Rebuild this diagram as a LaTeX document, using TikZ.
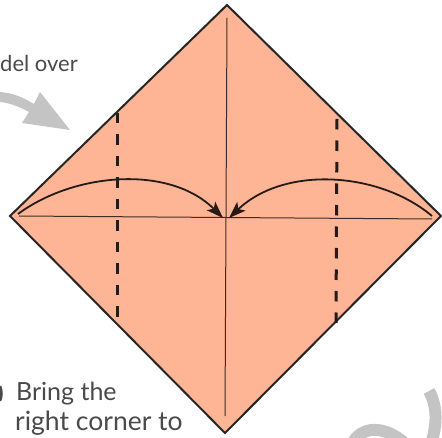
\documentclass[tikz,border=0pt]{standalone}
\usepackage{fontspec}
\setmainfont{Lato}
\usetikzlibrary{arrows.meta}
\definecolor{paper}{HTML}{FDB595}
\definecolor{swoosh}{HTML}{C4C4C4}
\definecolor{inktext}{HTML}{4A4A4A}
\tikzset{
  crease/.style = {line width=1pt, black!75!paper},
  fold/.style   = {line width=3pt, black!85!paper, dash pattern=on 10.5pt off 11pt},
  curl/.style   = {-{Stealth[length=17pt,width=12pt,inset=4pt]}, line width=1.8pt, black!85!paper},
  swirl/.style  = {line width=12pt, swoosh},
  caption/.style= {font=\fontsize{25}{25}\selectfont, text=inktext, anchor=base west, inner sep=0pt},
  topcap/.style = {caption, font=\fontsize{22}{22}\selectfont},
  widecap/.style= {caption, font=\fontsize{26.5}{26.5}\selectfont}
}
\begin{document}
\begin{tikzpicture}[x=1pt,y=-1pt]
  \useasboundingbox (0,0) rectangle (442,438);
  \clip (0,0) rectangle (442,438);
  % corners of the square
  \coordinate (top) at (227,5);
  \coordinate (lft) at (10,216);
  \coordinate (rgt) at (441,216);
  \coordinate (bot) at (225,433);
  \fill[paper] (top) -- (rgt) -- (bot) -- (lft) -- cycle;
  \draw[line width=2pt, black!85, line join=miter] (top) -- (rgt) -- (bot) -- (lft) -- cycle;
  % creases
  \coordinate (ctop) at (227,18);
  \coordinate (cbot) at (225,416);
  \coordinate (cleft) at (19,216);
  \coordinate (cright) at (432,219);
  \draw[crease] (ctop) -- (cbot);
  \draw[crease] (cleft) -- (cright);
  % fold lines
  \coordinate (la) at (117,113);
  \coordinate (lb) at (117,320);
  \coordinate (ra) at (337,119);
  \coordinate (rb) at (336,325);
  \draw[fold] (la) -- (lb);
  \draw[fold] (ra) -- (rb);
  % arrows to the middle
  \coordinate (lstart) at (18,214);
  \coordinate (rstart) at (432,216);
  \coordinate (mid1) at (223,218);
  \coordinate (mid2) at (229,218);
  \draw[curl] (lstart) .. controls (75,172) and (170,165) .. (mid1);
  \draw[curl] (rstart) .. controls (380,172) and (285,165) .. (mid2);
  % grey arrows of the next step
  \fill[swoosh] (0,92) .. controls (14,93) and (24,98) .. (34,104) -- (40,92) -- (70,130) -- (22,123) -- (29,112)
    .. controls (20,107) and (10,103) .. (0,102) -- cycle;
  \draw[swirl] (429,391) .. controls (437,405) and (438,425) .. (430,446);
  \draw[swirl] (351,446) .. controls (360,425) and (385,424) .. (408,446);
  % edge of the step number
  \draw[line width=2.5pt, inktext] (0,386) .. controls (2,391) and (2,396) .. (0,401);
  % text
  \node[topcap] (over) at (0,72) {del over};
  \node[caption] (bring) at (16,401) {Bring the};
  \node[widecap] (corner) at (15,431) {right corner to};
\end{tikzpicture}
\end{document}
